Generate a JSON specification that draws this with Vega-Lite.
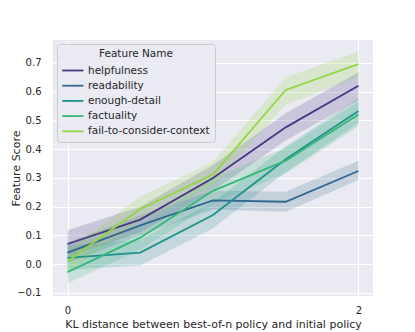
{
  "$schema": "https://vega.github.io/schema/vega-lite/v6.json",
  "width": 320,
  "height": 256,
  "autosize": {"type": "none"},
  "padding": {"left": 53, "top": 40, "right": 42, "bottom": 36},
  "background": "white",
  "config": {
    "font": "DejaVu Sans",
    "view": {"fill": "#EAEAF2", "stroke": null},
    "axis": {
      "domain": false,
      "ticks": false,
      "tickSize": 0,
      "gridColor": "white",
      "gridWidth": 1.1,
      "labelColor": "#262626",
      "titleColor": "#262626",
      "labelFontSize": 10,
      "titleFontSize": 11,
      "titleFontWeight": "normal",
      "labelOverlap": false
    }
  },
  "data": {
    "values": [
      {"x": 0, "feature": "helpfulness", "score": 0.07, "lo": 0.025, "hi": 0.118},
      {"x": 0.5, "feature": "helpfulness", "score": 0.155, "lo": 0.11, "hi": 0.2},
      {"x": 1, "feature": "helpfulness", "score": 0.3, "lo": 0.255, "hi": 0.345},
      {"x": 1.5, "feature": "helpfulness", "score": 0.476, "lo": 0.43, "hi": 0.525},
      {"x": 2, "feature": "helpfulness", "score": 0.621, "lo": 0.57, "hi": 0.668},
      {"x": 0, "feature": "readability", "score": 0.04, "lo": 0.005, "hi": 0.075},
      {"x": 0.5, "feature": "readability", "score": 0.135, "lo": 0.1, "hi": 0.17},
      {"x": 1, "feature": "readability", "score": 0.222, "lo": 0.19, "hi": 0.255},
      {"x": 1.5, "feature": "readability", "score": 0.217, "lo": 0.182, "hi": 0.252},
      {"x": 2, "feature": "readability", "score": 0.324, "lo": 0.293, "hi": 0.36},
      {"x": 0, "feature": "enough-detail", "score": 0.022, "lo": -0.02, "hi": 0.065},
      {"x": 0.5, "feature": "enough-detail", "score": 0.04, "lo": -0.005, "hi": 0.085},
      {"x": 1, "feature": "enough-detail", "score": 0.171, "lo": 0.125, "hi": 0.215},
      {"x": 1.5, "feature": "enough-detail", "score": 0.365, "lo": 0.32, "hi": 0.41},
      {"x": 2, "feature": "enough-detail", "score": 0.533, "lo": 0.49, "hi": 0.577},
      {"x": 0, "feature": "factuality", "score": -0.028, "lo": -0.067, "hi": 0.01},
      {"x": 0.5, "feature": "factuality", "score": 0.092, "lo": 0.05, "hi": 0.135},
      {"x": 1, "feature": "factuality", "score": 0.255, "lo": 0.21, "hi": 0.3},
      {"x": 1.5, "feature": "factuality", "score": 0.36, "lo": 0.315, "hi": 0.405},
      {"x": 2, "feature": "factuality", "score": 0.521, "lo": 0.48, "hi": 0.565},
      {"x": 0, "feature": "fail-to-consider-context", "score": 0.01, "lo": -0.03, "hi": 0.05},
      {"x": 0.5, "feature": "fail-to-consider-context", "score": 0.192, "lo": 0.15, "hi": 0.235},
      {"x": 1, "feature": "fail-to-consider-context", "score": 0.312, "lo": 0.27, "hi": 0.355},
      {"x": 1.5, "feature": "fail-to-consider-context", "score": 0.606, "lo": 0.555, "hi": 0.65},
      {"x": 2, "feature": "fail-to-consider-context", "score": 0.696, "lo": 0.65, "hi": 0.74}
    ]
  },
  "encoding": {
    "x": {
      "field": "x",
      "type": "quantitative",
      "scale": {"domain": [-0.1, 2.1], "nice": false, "zero": false},
      "axis": {"values": [0, 2], "format": "d", "title": "KL distance between best-of-n policy and initial policy", "labelPadding": 9, "titlePadding": 3}
    },
    "color": {
      "field": "feature",
      "type": "nominal",
      "scale": {
        "domain": ["helpfulness", "readability", "enough-detail", "factuality", "fail-to-consider-context"],
        "range": ["#443983", "#31688e", "#21918c", "#35b779", "#90d743"]
      },
      "legend": {
        "title": "Feature Name",
        "orient": "top-left",
        "offset": 4,
        "padding": 5,
        "fillColor": "rgba(234,234,242,0.8)",
        "strokeColor": "#cccccc",
        "cornerRadius": 3,
        "titleFontSize": 10.5,
        "titleFontWeight": "normal",
        "titleColor": "#262626",
        "titleAnchor": "middle",
        "titlePadding": 3,
        "labelFontSize": 10.5,
        "labelColor": "#262626",
        "symbolType": "M-1.1,0H1.9",
        "symbolSize": 200,
        "symbolStrokeWidth": 1.8,
        "symbolOpacity": 1,
        "labelOffset": 10,
        "rowPadding": 1.2
      }
    }
  },
  "layer": [
    {
      "mark": {"type": "area", "opacity": 0.2},
      "encoding": {
        "y": {
          "field": "lo",
          "type": "quantitative",
          "scale": {"domain": [-0.111, 0.78], "nice": false, "zero": false},
          "axis": {"values": [-0.1, 0, 0.1, 0.2, 0.3, 0.4, 0.5, 0.6, 0.7], "tickCount": 12, "format": ".1f", "title": "Feature Score", "labelPadding": 12, "titlePadding": -5}
        },
        "y2": {"field": "hi"}
      }
    },
    {
      "mark": {"type": "line", "strokeWidth": 1.8},
      "encoding": {
        "y": {"field": "score", "type": "quantitative"}
      }
    }
  ]
}
